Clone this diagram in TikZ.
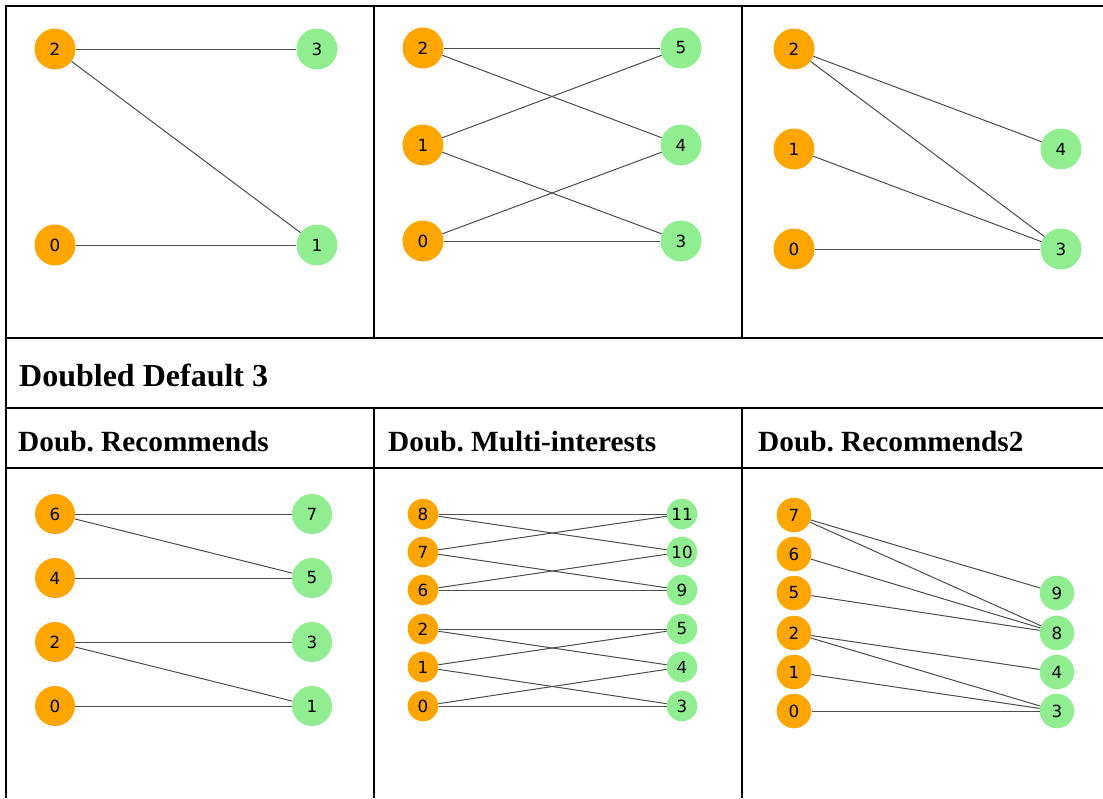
\documentclass[tikz,border=0pt]{standalone}
\usepackage{fontspec}
\setmainfont{Liberation Serif}
\newfontfamily\labelfont{DejaVu Sans}
\usetikzlibrary{positioning}
\frenchspacing

\definecolor{usrorange}{RGB}{255,165,0}
\definecolor{itemgreen}{RGB}{144,238,144}

\tikzset{
  usr/.style={circle, fill=usrorange, inner sep=0pt, minimum size=41pt,
    font=\labelfont\fontsize{16.7}{18}\selectfont},
  item/.style={usr, fill=itemgreen},
  link/.style={black!70, line width=1pt},
  rule/.style={black, line width=2pt},
  heading/.style={anchor=base west, inner sep=0pt, font=\bfseries\fontsize{29.3}{32}\selectfont}
}

\begin{document}
\begin{tikzpicture}[x=1pt, y=-1pt]
\useasboundingbox (0,0) rectangle (1103,798);

% table rules
\draw[rule] (6,6) -- (1103,6);
\draw[rule] (6,338) -- (1103,338);
\draw[rule] (6,408) -- (1103,408);
\draw[rule] (6,468) -- (1103,468);
\draw[rule] (6,5) -- (6,798);
\foreach \x in {374,742} {
  \draw[rule] (\x,6) -- (\x,338);
  \draw[rule] (\x,408) -- (\x,798);
}

% headings
\node[heading, font=\bfseries\fontsize{32}{35}\selectfont] (hdouble) at (19,386) {Doubled Default 3};
\node[heading] (hrec) at (18,451) {Doub. Recommends};
\node[heading] (hmulti) at (388,451) {Doub. Multi-interests};
\node[heading] (hrec2) at (758,451) {Doub. Recommends2};

% Default: recommends
\foreach \n/\y in {2/49, 0/245} \node[usr] (a\n) at (55,\y) {\n};
\foreach \n/\y in {3/49, 1/245} \node[item] (ai\n) at (317,\y) {\n};
\foreach \u/\i in {2/3, 2/1, 0/1} \draw[link] (a\u) -- (ai\i);

% Default: multi-interests
\foreach \n/\y in {2/48, 1/145, 0/241} \node[usr] (b\n) at (423,\y) {\n};
\foreach \n/\y in {5/48, 4/145, 3/241} \node[item] (bi\n) at (681,\y) {\n};
\foreach \u/\i in {2/5, 2/4, 1/5, 1/3, 0/4, 0/3} \draw[link] (b\u) -- (bi\i);

% Default: recommends2
\foreach \n/\y in {2/49, 1/149, 0/249} \node[usr] (c\n) at (794,\y) {\n};
\foreach \n/\y in {4/149, 3/249} \node[item] (ci\n) at (1061,\y) {\n};
\foreach \u/\i in {2/4, 2/3, 1/3, 0/3} \draw[link] (c\u) -- (ci\i);

% Doubled: recommends
\foreach \n/\y in {6/514, 4/578, 2/642, 0/706} \node[usr, minimum size=40pt] (d\n) at (55,\y) {\n};
\foreach \n/\y in {7/514, 5/578, 3/642, 1/706} \node[item, minimum size=40pt] (di\n) at (312,\y) {\n};
\foreach \u/\i in {6/7, 6/5, 4/5, 2/3, 2/1, 0/1} \draw[link] (d\u) -- (di\i);

% Doubled: multi-interests
\foreach \n/\y in {8/514, 7/552, 6/590, 2/629, 1/667, 0/706} \node[usr, minimum size=30.6pt] (e\n) at (423,\y) {\n};
\foreach \n/\y in {11/514, 10/552, 9/590, 5/629, 4/667, 3/706} \node[item, minimum size=30.6pt] (ei\n) at (682,\y) {\n};
\foreach \u/\i in {8/11, 8/10, 7/11, 7/9, 6/10, 6/9, 2/5, 2/4, 1/5, 1/3, 0/4, 0/3} \draw[link] (e\u) -- (ei\i);

% Doubled: recommends2
\foreach \n/\y in {7/515, 6/554, 5/593, 2/633, 1/672, 0/711} \node[usr, minimum size=34.6pt] (f\n) at (794,\y) {\n};
\foreach \n/\y in {9/593, 8/633, 4/672, 3/711} \node[item, minimum size=34.6pt] (fi\n) at (1057,\y) {\n};
\foreach \u/\i in {7/9, 7/8, 6/8, 5/8, 2/4, 2/3, 1/3, 0/3} \draw[link] (f\u) -- (fi\i);
\end{tikzpicture}
\end{document}
